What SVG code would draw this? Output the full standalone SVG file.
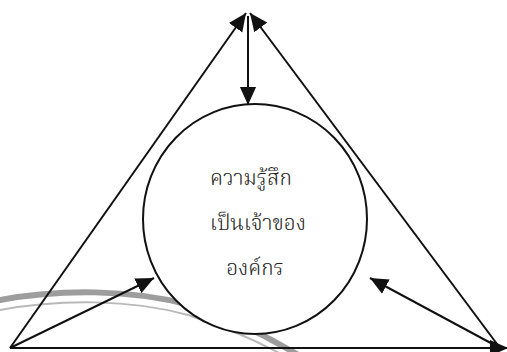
<svg xmlns="http://www.w3.org/2000/svg" width="507" height="352" viewBox="0 0 507 352">
<style>
.ln{stroke:#111;stroke-width:2;fill:none}
.lbl{font-family:"Noto Serif Thai","Noto Sans Thai","Liberation Serif",serif;font-size:21px;font-weight:300;fill:#222;text-anchor:middle}
.sw{fill:none;stroke-linecap:round}
</style>
<defs>
<marker id="ah" viewBox="0 0 10 10" refX="10" refY="5" markerWidth="9" markerHeight="9" markerUnits="strokeWidth" orient="auto">
<path d="M0,0.5 L10,5 L0,9.5 z" fill="#111"/>
</marker>
</defs>
<rect width="507" height="352" fill="#fff"/>
<g id="swoosh">
<path class="sw" d="M0,300 C60,289 130,289 190,305 C230,318 265,335 300,356" stroke="#8c8c8c" stroke-width="6" opacity="0.85"/>
<path class="sw" d="M0,310 C60,299 130,299 188,315 C228,328 262,343 292,360" stroke="#a8a8a8" stroke-width="2" opacity="0.8"/>
</g>
<g id="node-circle">
<ellipse cx="255" cy="219" rx="112" ry="115" fill="#fff" stroke="#111" stroke-width="2"/>
<text class="lbl" x="251" y="185">ความรู้สึก</text>
<text class="lbl" x="258" y="230">เป็นเจ้าของ</text>
<text class="lbl" x="255" y="275">องค์กร</text>
</g>
<g id="connectors">
<line class="ln" x1="10" y1="348" x2="246" y2="13" marker-end="url(#ah)"/>
<line class="ln" x1="500" y1="348" x2="250" y2="13" marker-end="url(#ah)"/>
<line class="ln" x1="10" y1="348" x2="508" y2="348" marker-end="url(#ah)"/>
<line class="ln" x1="248" y1="16" x2="248" y2="105" marker-end="url(#ah)"/>
<line class="ln" x1="10" y1="348" x2="154" y2="278" marker-end="url(#ah)"/>
<line class="ln" x1="500" y1="348" x2="370" y2="278" marker-end="url(#ah)"/>
</g>
</svg>
